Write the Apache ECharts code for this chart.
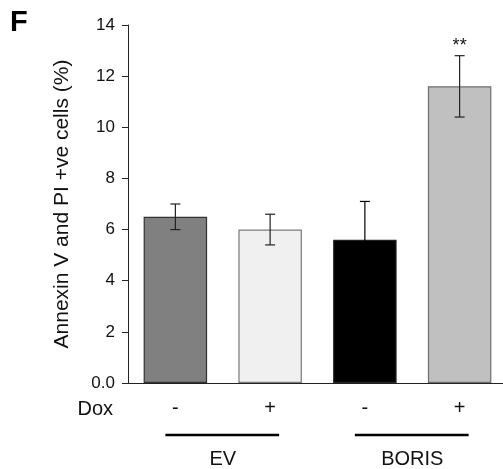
<!DOCTYPE html>
<html>
<head>
<meta charset="utf-8">
<script src="https://cdn.jsdelivr.net/npm/echarts@6/dist/echarts.min.js"></script>
<style>
  html, body { margin: 0; padding: 0; background: #fff; }
  #chart { width: 503px; height: 469px; }
</style>
</head>
<body>
<div id="chart"></div>
<script>
// data
const doxLabels = ["-", "+", "-", "+"];
const groupNames = ["EV", "BORIS"];
const means = [6.5, 6.0, 5.6, 11.6];
const errors = [0.5, 0.6, 1.5, 1.2];
const barColors = ["#808080", "#f0f0f0", "#000000", "#c0c0c0"];
const barBorders = ["#333333", "#7a7a7a", "#222222", "#6e6e6e"];
const signif = ["", "", "", "**"];
const yTicks = [0, 2, 4, 6, 8, 10, 12, 14];

const font = "Liberation Sans, Arial, sans-serif";
const chart = echarts.init(document.getElementById("chart"));

chart.setOption({
    animation: false,
    grid: { left: 128, top: 25, width: 379, height: 358, outerBoundsMode: "none", containLabel: false },
    xAxis: {
        type: "category",
        data: doxLabels,
        axisLine: { lineStyle: { color: "#222", width: 1 } },
        axisTick: { show: false },
        axisLabel: { color: "#111", fontSize: 20, fontFamily: font, margin: 15 },
    },
    yAxis: {
        type: "value",
        min: yTicks[0],
        max: yTicks[yTicks.length - 1],
        interval: 2,
        splitLine: { show: false },
        axisLine: { show: true, lineStyle: { color: "#222", width: 1 } },
        axisTick: { show: true, length: 6, lineStyle: { color: "#222" } },
        axisLabel: {
            color: "#111", fontSize: 17, fontFamily: font, margin: 13,
            formatter: (v) => (v === 0 ? "0.0" : String(v)),
        },
        name: "Annexin V and PI +ve cells (%)",
        nameLocation: "middle",
        nameRotate: 90,
        nameGap: 55,
        nameTextStyle: { color: "#111", fontSize: 21, fontFamily: font },
    },
    series: [
        {
            type: "bar",
            barWidth: "67%",
            data: means.map((v, i) => ({
                value: v,
                itemStyle: { color: barColors[i], borderColor: barBorders[i], borderWidth: 1.2 },
            })),
        },
        {
            type: "custom",
            data: means.map((v, i) => [i, v, errors[i]]),
            renderItem: (params, api) => {
                const i = api.value(0);
                const hi = api.coord([i, api.value(1) + api.value(2)]);
                const lo = api.coord([i, api.value(1) - api.value(2)]);
                const w = 5;
                // whisker stays black where it crosses the black bar
                const style = { stroke: barColors[i] === "#000000" ? "#000" : "#222", lineWidth: 1.2 };
                const children = [
                    { type: "line", shape: { x1: hi[0], y1: hi[1], x2: lo[0], y2: lo[1] }, style },
                    { type: "line", shape: { x1: hi[0] - w, y1: hi[1], x2: hi[0] + w, y2: hi[1] }, style },
                    { type: "line", shape: { x1: lo[0] - w, y1: lo[1], x2: lo[0] + w, y2: lo[1] }, style },
                ];
                if (signif[i]) {
                    children.push({
                        type: "text",
                        style: {
                            text: signif[i], x: hi[0], y: hi[1] - 1,
                            align: "center", verticalAlign: "bottom",
                            fill: "#111", fontSize: 18, fontFamily: font,
                        },
                    });
                }
                return { type: "group", children };
            },
            z: 5,
        },
    ],
});

// group lines and labels placed from the category axis
const pos = doxLabels.map((_, i) => chart.convertToPixel({ xAxisIndex: 0 }, i));
const graphics = [
    { type: "text", left: 10, top: 8, style: { text: "F", fontSize: 29, fontWeight: "bold", fontFamily: font, fill: "#000" } },
    { type: "text", style: { text: "Dox", x: 113, y: 409, align: "right", verticalAlign: "middle", fontSize: 20, fontFamily: font, fill: "#111" } },
];
groupNames.forEach((name, g) => {
    const a = pos[g * 2], b = pos[g * 2 + 1];
    graphics.push({
        type: "line",
        shape: { x1: a - 10, y1: 435, x2: b + 9, y2: 435 },
        style: { stroke: "#000", lineWidth: 2.5 },
    });
    graphics.push({
        type: "text",
        style: { text: name, x: (a + b) / 2, y: 459, align: "center", verticalAlign: "middle", fontSize: 20, fontFamily: font, fill: "#111" },
    });
});
chart.setOption({ graphic: graphics });
</script>
</body>
</html>
